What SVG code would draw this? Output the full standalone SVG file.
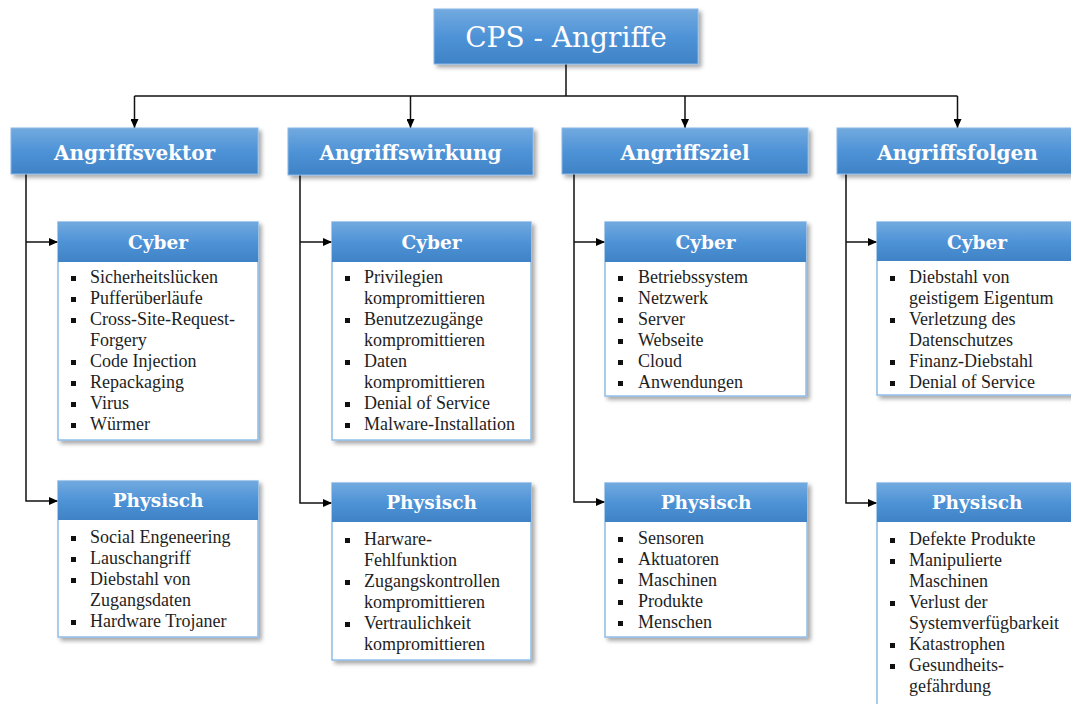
<svg xmlns="http://www.w3.org/2000/svg" width="1071" height="704" viewBox="0 0 1071 704">
<defs>
<linearGradient id="blue" x1="0" y1="0" x2="0" y2="1">
<stop offset="0" stop-color="#72aadf"/>
<stop offset="0.5" stop-color="#4f93d7"/>
<stop offset="1" stop-color="#3f82c6"/>
</linearGradient>
<filter id="sh" x="-10%" y="-10%" width="125%" height="130%">
<feDropShadow dx="3" dy="3" stdDeviation="2" flood-color="#000" flood-opacity="0.35"/>
</filter>
<marker id="arr" markerUnits="userSpaceOnUse" markerWidth="9" markerHeight="8" refX="9" refY="4" orient="auto">
<path d="M0,0 L9,4 L0,8 z" fill="#000"/>
</marker>
<style>
.hdr{fill:url(#blue);stroke:#8ab7e6;stroke-width:1;filter:url(#sh)}
.body{fill:#fff;stroke:#8fbde9;stroke-width:1.5;filter:url(#sh)}
.sub{fill:url(#blue);stroke:none}
.t0{font-family:"DejaVu Serif",serif;font-size:28px;fill:#fff;text-anchor:middle}
.t1{font-family:"DejaVu Serif",serif;font-weight:bold;font-size:20px;fill:#fff;text-anchor:middle}
.t2{font-family:"DejaVu Serif",serif;font-weight:bold;font-size:18.5px;fill:#fff;text-anchor:middle}
.it{font-family:"Liberation Serif","Times New Roman",serif;font-size:18px;fill:#1e1e1e}
.bl{fill:#111}
.cn{fill:none;stroke:#111;stroke-width:1.5}
</style>
</defs>
<rect width="1071" height="704" fill="#fff"/>

<g id="connectors">
<path class="cn" d="M566,64 V96"/>
<path class="cn" d="M134.5,96 H957.5"/>
<path class="cn" d="M134.5,96 V128" marker-end="url(#arr)"/>
<path class="cn" d="M410.5,96 V128" marker-end="url(#arr)"/>
<path class="cn" d="M685,96 V128" marker-end="url(#arr)"/>
<path class="cn" d="M957.5,96 V128" marker-end="url(#arr)"/>
<path class="cn" d="M26,174 V501 H58" marker-end="url(#arr)"/>
<path class="cn" d="M26,242 H58" marker-end="url(#arr)"/>
<path class="cn" d="M300,175 V503 H332" marker-end="url(#arr)"/>
<path class="cn" d="M300,242 H332" marker-end="url(#arr)"/>
<path class="cn" d="M574,174 V502 H605" marker-end="url(#arr)"/>
<path class="cn" d="M574,242 H605" marker-end="url(#arr)"/>
<path class="cn" d="M846,174 V503 H877" marker-end="url(#arr)"/>
<path class="cn" d="M846,242 H877" marker-end="url(#arr)"/>
</g>

<g id="title">
<rect class="hdr" x="434" y="9" width="264" height="55"/>
<text class="t0" x="566" y="47">CPS - Angriffe</text>
</g>

<g id="angriffsvektor">
<rect class="hdr" x="11" y="128" width="247" height="46"/>
<text class="t1" x="134.5" y="160">Angriffsvektor</text>
</g>
<g id="angriffswirkung">
<rect class="hdr" x="288" y="128" width="245" height="47"/>
<text class="t1" x="410.5" y="160">Angriffswirkung</text>
</g>
<g id="angriffsziel">
<rect class="hdr" x="562" y="128" width="246" height="46"/>
<text class="t1" x="685" y="160">Angriffsziel</text>
</g>
<g id="angriffsfolgen">
<rect class="hdr" x="837" y="128" width="241" height="46"/>
<text class="t1" x="957.5" y="160">Angriffsfolgen</text>
</g>

<g id="vektor-cyber">
<rect class="body" x="58" y="222" width="200" height="218"/>
<rect class="sub" x="58" y="222" width="200" height="40"/>
<text class="t2" x="158" y="249">Cyber</text>
<rect class="bl" x="71" y="276" width="5" height="5"/><text class="it" x="90" y="283">Sicherheitslücken</text>
<rect class="bl" x="71" y="297" width="5" height="5"/><text class="it" x="90" y="304">Pufferüberläufe</text>
<rect class="bl" x="71" y="318" width="5" height="5"/><text class="it" x="90" y="325">Cross-Site-Request-</text>
<text class="it" x="90" y="346">Forgery</text>
<rect class="bl" x="71" y="360" width="5" height="5"/><text class="it" x="90" y="367">Code Injection</text>
<rect class="bl" x="71" y="381" width="5" height="5"/><text class="it" x="90" y="388">Repackaging</text>
<rect class="bl" x="71" y="402" width="5" height="5"/><text class="it" x="90" y="409">Virus</text>
<rect class="bl" x="71" y="423" width="5" height="5"/><text class="it" x="90" y="430">Würmer</text>
</g>

<g id="vektor-physisch">
<rect class="body" x="58" y="481" width="200" height="156"/>
<rect class="sub" x="58" y="481" width="200" height="39"/>
<text class="t2" x="158" y="507">Physisch</text>
<rect class="bl" x="71" y="536" width="5" height="5"/><text class="it" x="90" y="543">Social Engeneering</text>
<rect class="bl" x="71" y="557" width="5" height="5"/><text class="it" x="90" y="564">Lauschangriff</text>
<rect class="bl" x="71" y="578" width="5" height="5"/><text class="it" x="90" y="585">Diebstahl von</text>
<text class="it" x="90" y="606">Zugangsdaten</text>
<rect class="bl" x="71" y="620" width="5" height="5"/><text class="it" x="90" y="627">Hardware Trojaner</text>
</g>

<g id="wirkung-cyber">
<rect class="body" x="332" y="222" width="199" height="218"/>
<rect class="sub" x="332" y="222" width="199" height="40"/>
<text class="t2" x="431.5" y="249">Cyber</text>
<rect class="bl" x="345" y="276" width="5" height="5"/><text class="it" x="364" y="283">Privilegien</text>
<text class="it" x="364" y="304">kompromittieren</text>
<rect class="bl" x="345" y="318" width="5" height="5"/><text class="it" x="364" y="325">Benutzezugänge</text>
<text class="it" x="364" y="346">kompromittieren</text>
<rect class="bl" x="345" y="360" width="5" height="5"/><text class="it" x="364" y="367">Daten</text>
<text class="it" x="364" y="388">kompromittieren</text>
<rect class="bl" x="345" y="402" width="5" height="5"/><text class="it" x="364" y="409">Denial of Service</text>
<rect class="bl" x="345" y="423" width="5" height="5"/><text class="it" x="364" y="430">Malware-Installation</text>
</g>

<g id="wirkung-physisch">
<rect class="body" x="332" y="483" width="199" height="177"/>
<rect class="sub" x="332" y="483" width="199" height="39"/>
<text class="t2" x="431.5" y="509">Physisch</text>
<rect class="bl" x="345" y="538" width="5" height="5"/><text class="it" x="364" y="545">Harware-</text>
<text class="it" x="364" y="566">Fehlfunktion</text>
<rect class="bl" x="345" y="580" width="5" height="5"/><text class="it" x="364" y="587">Zugangskontrollen</text>
<text class="it" x="364" y="608">kompromittieren</text>
<rect class="bl" x="345" y="622" width="5" height="5"/><text class="it" x="364" y="629">Vertraulichkeit</text>
<text class="it" x="364" y="650">kompromittieren</text>
</g>

<g id="ziel-cyber">
<rect class="body" x="605" y="222" width="201" height="174"/>
<rect class="sub" x="605" y="222" width="201" height="40"/>
<text class="t2" x="705.5" y="249">Cyber</text>
<rect class="bl" x="618" y="276" width="5" height="5"/><text class="it" x="638" y="283">Betriebssystem</text>
<rect class="bl" x="618" y="297" width="5" height="5"/><text class="it" x="638" y="304">Netzwerk</text>
<rect class="bl" x="618" y="318" width="5" height="5"/><text class="it" x="638" y="325">Server</text>
<rect class="bl" x="618" y="339" width="5" height="5"/><text class="it" x="638" y="346">Webseite</text>
<rect class="bl" x="618" y="360" width="5" height="5"/><text class="it" x="638" y="367">Cloud</text>
<rect class="bl" x="618" y="381" width="5" height="5"/><text class="it" x="638" y="388">Anwendungen</text>
</g>

<g id="ziel-physisch">
<rect class="body" x="605" y="483" width="202" height="154"/>
<rect class="sub" x="605" y="483" width="202" height="39"/>
<text class="t2" x="706" y="509">Physisch</text>
<rect class="bl" x="618" y="537" width="5" height="5"/><text class="it" x="638" y="544">Sensoren</text>
<rect class="bl" x="618" y="558" width="5" height="5"/><text class="it" x="638" y="565">Aktuatoren</text>
<rect class="bl" x="618" y="579" width="5" height="5"/><text class="it" x="638" y="586">Maschinen</text>
<rect class="bl" x="618" y="600" width="5" height="5"/><text class="it" x="638" y="607">Produkte</text>
<rect class="bl" x="618" y="621" width="5" height="5"/><text class="it" x="638" y="628">Menschen</text>
</g>

<g id="folgen-cyber">
<rect class="body" x="877" y="222" width="200" height="173"/>
<rect class="sub" x="877" y="222" width="200" height="39"/>
<text class="t2" x="977" y="249">Cyber</text>
<rect class="bl" x="890" y="276" width="5" height="5"/><text class="it" x="909" y="283">Diebstahl von</text>
<text class="it" x="909" y="304">geistigem Eigentum</text>
<rect class="bl" x="890" y="318" width="5" height="5"/><text class="it" x="909" y="325">Verletzung des</text>
<text class="it" x="909" y="346">Datenschutzes</text>
<rect class="bl" x="890" y="360" width="5" height="5"/><text class="it" x="909" y="367">Finanz-Diebstahl</text>
<rect class="bl" x="890" y="381" width="5" height="5"/><text class="it" x="909" y="388">Denial of Service</text>
</g>

<g id="folgen-physisch">
<rect class="body" x="877" y="483" width="200" height="232"/>
<rect class="sub" x="877" y="483" width="200" height="39"/>
<text class="t2" x="977" y="509">Physisch</text>
<rect class="bl" x="890" y="538" width="5" height="5"/><text class="it" x="909" y="545">Defekte Produkte</text>
<rect class="bl" x="890" y="559" width="5" height="5"/><text class="it" x="909" y="566">Manipulierte</text>
<text class="it" x="909" y="587">Maschinen</text>
<rect class="bl" x="890" y="601" width="5" height="5"/><text class="it" x="909" y="608">Verlust der</text>
<text class="it" x="909" y="629">Systemverfügbarkeit</text>
<rect class="bl" x="890" y="643" width="5" height="5"/><text class="it" x="909" y="650">Katastrophen</text>
<rect class="bl" x="890" y="664" width="5" height="5"/><text class="it" x="909" y="671">Gesundheits-</text>
<text class="it" x="909" y="692">gefährdung</text>
</g>
</svg>
